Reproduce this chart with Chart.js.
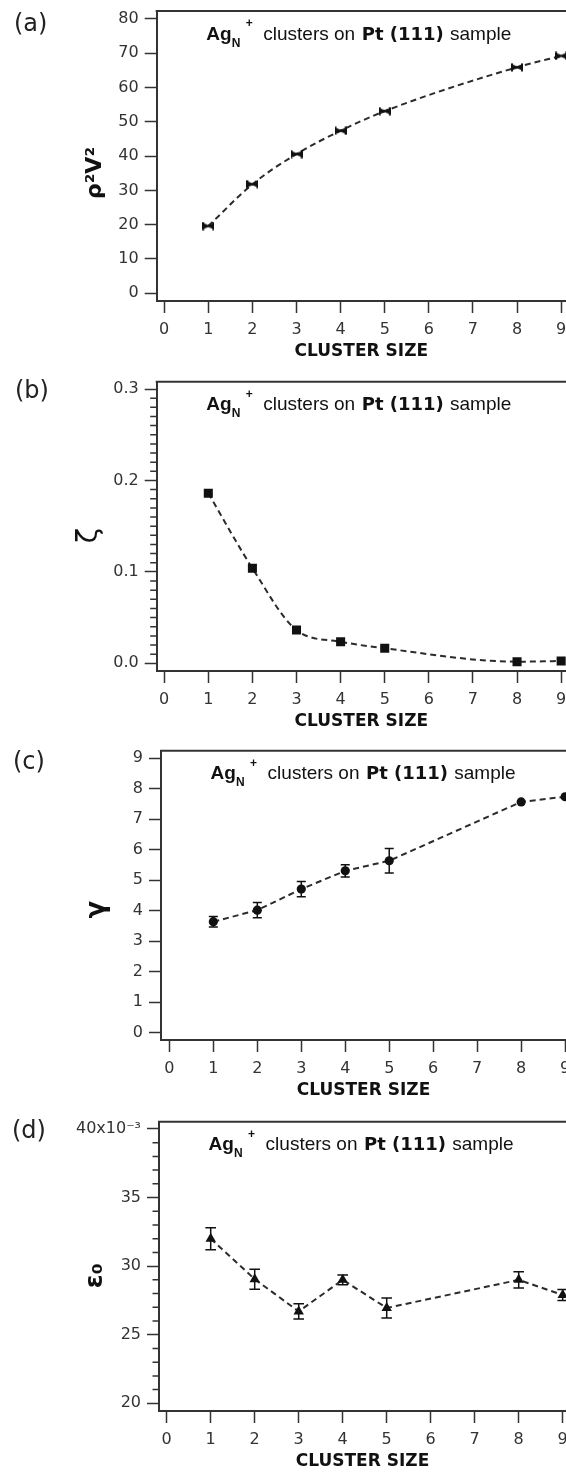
<!DOCTYPE html>
<html>
<head>
<meta charset="utf-8">
<title>Ag_N+ clusters on Pt (111)</title>
<script src="https://cdn.jsdelivr.net/npm/chart.js@4.4.1/dist/chart.umd.min.js"></script>
<style>
  html, body { margin: 0; padding: 0; background: #fff; width: 566px; height: 1473px; overflow: hidden; }
  .panel { position: absolute; left: 0; width: 566px; }
</style>
</head>
<body>
<div class="panel" style="top:0;height:363px"><canvas id="panelA"></canvas></div>
<div class="panel" style="top:363px;height:370px"><canvas id="panelB"></canvas></div>
<div class="panel" style="top:733px;height:369px"><canvas id="panelC"></canvas></div>
<div class="panel" style="top:1102px;height:371px"><canvas id="panelD"></canvas></div>
<script>
// ---- data ----
const clusterSizes = [1, 2, 3, 4, 5, 8, 9];
const xTickValues = [0, 1, 2, 3, 4, 5, 6, 7, 8, 9];

// (a) rho^2 V^2
const rhoV2 = [19.6, 31.8, 40.6, 47.4, 53.1, 65.9, 69.2];
const rhoTicks = [0, 10, 20, 30, 40, 50, 60, 70, 80];
const rhoTickLabels = ['0', '10', '20', '30', '40', '50', '60', '70', '80'];

// (b) zeta
const zeta = [0.186, 0.104, 0.0364, 0.0236, 0.0164, 0.0018, 0.0025];
const zetaTicks = [0, 0.1, 0.2, 0.3];
const zetaTickLabels = ['0.0', '0.1', '0.2', '0.3'];

// (c) gamma with error bars
const gamma = [3.64, 4.02, 4.71, 5.31, 5.64, 7.57, 7.74];
const gammaErr = [0.17, 0.25, 0.25, 0.2, 0.4, 0, 0];
const gammaTicks = [0, 1, 2, 3, 4, 5, 6, 7, 8, 9];
const gammaTickLabels = ['0', '1', '2', '3', '4', '5', '6', '7', '8', '9'];

// (d) epsilon_0 in units of 1e-3, with error bars
const eps0 = [32.0, 29.05, 26.7, 29.0, 26.95, 29.0, 27.9];
const eps0Err = [0.8, 0.73, 0.56, 0.36, 0.73, 0.6, 0.4];
const eps0Ticks = [20, 25, 30, 35, 40];
const eps0TickLabels = ['20', '25', '30', '35', '40x10\u207B\u00B3'];

// ---- styling ----
const INK = '#111';
const AXIS = '#333';
const TICK_FONT = { family: 'DejaVu Sans', size: 16 };

// small "|><|" marker used for the rho^2 V^2 points
function bowtieMarker() {
  const c = document.createElement('canvas');
  c.width = 12; c.height = 9;
  const g = c.getContext('2d');
  g.fillStyle = INK; g.strokeStyle = INK; g.lineWidth = 2;
  g.beginPath();
  g.moveTo(1, 0.5); g.lineTo(1, 8.5);
  g.moveTo(11, 0.5); g.lineTo(11, 8.5);
  g.stroke();
  g.beginPath();
  g.moveTo(1, 1.5); g.lineTo(6, 3.6); g.lineTo(11, 1.5);
  g.lineTo(11, 7.5); g.lineTo(6, 5.4); g.lineTo(1, 7.5);
  g.closePath(); g.fill();
  return c;
}

// frame top line, minor ticks, error bars, panel letters, in-plot caption, y titles
const panelDecor = {
  id: 'panelDecor',
  afterDatasetsDraw(chart, args, opts) {
    if (!opts.errors) return;
    const { ctx } = chart;
    const xs = chart.scales.x, ys = chart.scales.y;
    ctx.save();
    ctx.strokeStyle = INK;
    ctx.lineWidth = 1.5;
    opts.errors.forEach((e, i) => {
      if (!e) return;
      const v = opts.values[i];
      const px = xs.getPixelForValue(clusterSizes[i]);
      const y1 = ys.getPixelForValue(v + e);
      const y2 = ys.getPixelForValue(v - e);
      ctx.beginPath();
      ctx.moveTo(px, y1); ctx.lineTo(px, y2);
      ctx.moveTo(px - opts.cap, y1); ctx.lineTo(px + opts.cap, y1);
      ctx.moveTo(px - opts.cap, y2); ctx.lineTo(px + opts.cap, y2);
      ctx.stroke();
    });
    ctx.restore();
  },
  afterDraw(chart, args, opts) {
    const { ctx, chartArea: a } = chart;
    const ys = chart.scales.y;
    ctx.save();

    // top edge of the plot frame
    ctx.strokeStyle = AXIS;
    ctx.lineWidth = 2;
    ctx.beginPath();
    ctx.moveTo(a.left - 1, a.top);
    ctx.lineTo(a.right, a.top);
    ctx.stroke();

    // minor ticks on the left axis
    if (opts.minor) {
      const m = opts.minor;
      ctx.lineWidth = 1.5;
      ctx.beginPath();
      for (let k = 0; k <= m.count; k++) {
        if (k % m.every === 0) continue;
        const py = ys.getPixelForValue(m.start + k * m.step);
        ctx.moveTo(a.left - 6.5, py);
        ctx.lineTo(a.left, py);
      }
      ctx.stroke();
    }

    // panel letter
    ctx.fillStyle = '#222';
    ctx.textAlign = 'left';
    ctx.textBaseline = 'middle';
    ctx.font = '24px "DejaVu Sans"';
    ctx.fillText(opts.letter, opts.letterX, a.top + opts.letterDy);

    // caption: Ag_N^+ clusters on Pt (111) sample
    const x0 = a.left, y0 = a.top + 28.5;
    ctx.fillStyle = INK;
    ctx.textBaseline = 'alphabetic';
    ctx.font = 'bold 19px "Liberation Sans"';
    ctx.fillText('Ag', x0 + 49.5, y0);
    ctx.font = 'bold 12px "Liberation Sans"';
    ctx.fillText('N', x0 + 75, y0 + 7);
    ctx.fillText('+', x0 + 89, y0 - 12.5);
    ctx.font = '19px "Liberation Sans"';
    ctx.fillText('clusters on', x0 + 106.6, y0);
    ctx.font = 'bold 18px "DejaVu Sans"';
    ctx.fillText('Pt (111)', x0 + 205, y0);
    ctx.font = '19px "Liberation Sans"';
    ctx.fillText('sample', x0 + 293.3, y0);

    // rotated y-axis title
    ctx.translate(opts.titleX, a.top + opts.titleDy);
    ctx.rotate(-Math.PI / 2);
    ctx.textAlign = 'center';
    ctx.textBaseline = 'middle';
    ctx.font = opts.titleFont;
    ctx.fillText(opts.title, 0, 0);

    ctx.restore();
  }
};

function makePanel(p) {
  return new Chart(document.getElementById(p.id), {
    type: 'line',
    data: {
      datasets: [{
        data: clusterSizes.map((x, i) => ({ x: x, y: p.values[i] })),
        borderColor: '#2b2b2b',
        borderWidth: 2,
        borderDash: [6, 4],
        cubicInterpolationMode: p.smooth ? 'monotone' : 'default',
        tension: 0,
        fill: false,
        pointStyle: p.pointStyle,
        pointRadius: p.pointRadius,
        pointBackgroundColor: INK,
        pointBorderColor: INK,
        pointBorderWidth: 0,
        pointHoverRadius: p.pointRadius
      }]
    },
    options: {
      responsive: true,
      maintainAspectRatio: false,
      animation: false,
      devicePixelRatio: 1,
      events: [],
      layout: { autoPadding: false, padding: { top: p.padTop, left: 0, right: 0, bottom: 0 } },
      plugins: {
        legend: { display: false },
        tooltip: { enabled: false },
        panelDecor: p.decor
      },
      scales: {
        x: {
          type: 'linear',
          position: 'bottom',
          min: p.xMin,
          max: p.xMax,
          afterBuildTicks(s) { s.ticks = xTickValues.map(v => ({ value: v })); },
          afterFit(s) { s.height = 62; s.paddingLeft = 0; s.paddingRight = 0; },
          ticks: { font: TICK_FONT, color: AXIS, padding: 7, autoSkip: false, maxRotation: 0,
                   callback: (v, i) => String(xTickValues[i]) },
          grid: { drawOnChartArea: false, drawTicks: true, tickLength: 12, tickWidth: 1.5, tickColor: AXIS },
          border: { display: true, color: AXIS, width: 2 },
          title: { display: true, text: 'CLUSTER SIZE', color: INK,
                   font: { family: 'DejaVu Sans', weight: 'bold', size: 17 },
                   padding: { top: 0, bottom: 1 } }
        },
        y: {
          type: 'linear',
          position: 'left',
          min: p.yMin,
          max: p.yMax,
          afterBuildTicks(s) { s.ticks = p.yTicks.map(v => ({ value: v })); },
          afterFit(s) { s.width = p.left; s.paddingTop = 0; s.paddingBottom = 0; },
          ticks: { font: TICK_FONT, color: AXIS, padding: 6, autoSkip: false,
                   callback: (v, i) => p.yLabels[i] },
          grid: { drawOnChartArea: false, drawTicks: true, tickLength: 12, tickWidth: 1.5, tickColor: AXIS },
          border: { display: true, color: AXIS, width: 2 }
        }
      }
    },
    plugins: [panelDecor]
  });
}

makePanel({
  id: 'panelA', values: rhoV2, smooth: true,
  pointStyle: bowtieMarker(), pointRadius: 6,
  padTop: 11, left: 156.7,
  xMin: -0.17, xMax: 9.11, yMin: -2.25, yMax: 82.3,
  yTicks: rhoTicks, yLabels: rhoTickLabels,
  decor: { letter: '(a)', letterX: 14, letterDy: 14,
           title: '\u03C1\u00B2V\u00B2', titleFont: 'bold 22px "DejaVu Sans"', titleX: 95, titleDy: 162 }
});

makePanel({
  id: 'panelB', values: zeta, smooth: true,
  pointStyle: 'rect', pointRadius: 6.4,
  padTop: 18.7, left: 156.7,
  xMin: -0.17, xMax: 9.11, yMin: -0.0084, yMax: 0.308,
  yTicks: zetaTicks, yLabels: zetaTickLabels,
  decor: { letter: '(b)', letterX: 15, letterDy: 10,
           minor: { start: 0, step: 0.01, count: 30, every: 10 },
           title: '\u03B6', titleFont: '28px "DejaVu Sans"', titleX: 90, titleDy: 154 }
});

makePanel({
  id: 'panelC', values: gamma, smooth: false,
  pointStyle: 'circle', pointRadius: 4.6,
  padTop: 17.7, left: 161,
  xMin: -0.19, xMax: 9.02, yMin: -0.24, yMax: 9.25,
  yTicks: gammaTicks, yLabels: gammaTickLabels,
  decor: { letter: '(c)', letterX: 13, letterDy: 12,
           errors: gammaErr, values: gamma, cap: 4.5,
           title: '\u03B3', titleFont: 'bold 26px "DejaVu Sans"', titleX: 97, titleDy: 159 }
});

makePanel({
  id: 'panelD', values: eps0, smooth: false,
  pointStyle: 'triangle', pointRadius: 6,
  padTop: 19.7, left: 159,
  xMin: -0.175, xMax: 9.075, yMin: 19.44, yMax: 40.53,
  yTicks: eps0Ticks, yLabels: eps0TickLabels,
  decor: { letter: '(d)', letterX: 12, letterDy: 10,
           minor: { start: 20, step: 1, count: 20, every: 5 },
           errors: eps0Err, values: eps0, cap: 5.3,
           title: '\u03B5\u2080', titleFont: 'bold 25px "DejaVu Sans"', titleX: 95, titleDy: 154 }
});
</script>
</body>
</html>
